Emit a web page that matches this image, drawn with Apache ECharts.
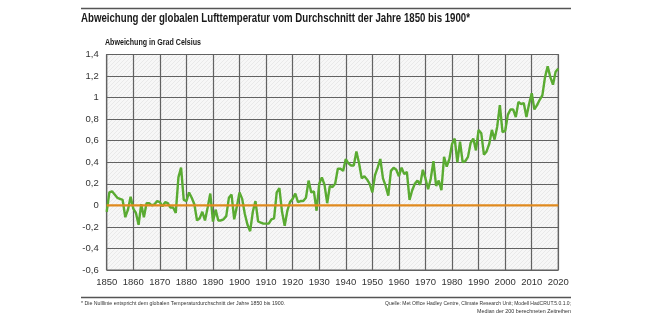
<!DOCTYPE html>
<html>
<head>
<meta charset="utf-8">
<script src="https://cdn.jsdelivr.net/npm/echarts@6/dist/echarts.min.js"></script>
<style>html,body{margin:0;padding:0;background:#fff}#c{width:650px;height:326px}</style>
</head>
<body>
<div id="c"></div>
<script>
const startYear = 1850;
const anomaly = [
  -0.06, 0.12, 0.13, 0.10, 0.07, 0.06, 0.05, -0.11, -0.04, 0.08,
  -0.03, -0.07, -0.18, 0.01, -0.11, 0.02, 0.02, 0.00, 0.01, 0.04,
  0.03, -0.01, 0.03, 0.02, -0.02, -0.02, -0.07, 0.26, 0.35, 0.05,
  0.04, 0.12, 0.07, 0.01, -0.14, -0.12, -0.06, -0.14, -0.02, 0.11,
  -0.15, -0.04, -0.14, -0.14, -0.13, -0.10, 0.07, 0.10, -0.13, -0.01,
  0.12, 0.06, -0.08, -0.18, -0.24, -0.06, 0.04, -0.15, -0.16, -0.17,
  -0.17, -0.17, -0.13, -0.12, 0.12, 0.16, -0.06, -0.19, -0.05, 0.03,
  0.06, 0.11, 0.03, 0.04, 0.04, 0.07, 0.23, 0.12, 0.13, -0.05,
  0.20, 0.26, 0.19, 0.02, 0.18, 0.17, 0.20, 0.34, 0.34, 0.32,
  0.43, 0.39, 0.37, 0.37, 0.50, 0.39, 0.25, 0.27, 0.24, 0.20,
  0.12, 0.28, 0.35, 0.43, 0.25, 0.18, 0.09, 0.32, 0.35, 0.33,
  0.27, 0.35, 0.29, 0.31, 0.05, 0.14, 0.20, 0.23, 0.19, 0.33,
  0.25, 0.15, 0.25, 0.41, 0.18, 0.23, 0.14, 0.45, 0.36, 0.43,
  0.57, 0.62, 0.40, 0.59, 0.40, 0.41, 0.45, 0.58, 0.62, 0.51,
  0.70, 0.67, 0.47, 0.50, 0.57, 0.70, 0.61, 0.73, 0.93, 0.68,
  0.69, 0.84, 0.89, 0.89, 0.82, 0.96, 0.94, 0.95, 0.82, 0.94,
  1.04, 0.89, 0.93, 0.98, 1.02, 1.19, 1.29, 1.19, 1.12, 1.24,
  1.27
];
const years = anomaly.map((v, i) => startYear + i);
const xTicks = [1850, 1860, 1870, 1880, 1890, 1900, 1910, 1920, 1930, 1940, 1950, 1960, 1970, 1980, 1990, 2000, 2010, 2020];
const yTicks = [-0.6, -0.4, -0.2, 0, 0.2, 0.4, 0.6, 0.8, 1, 1.2, 1.4];
const titleText = 'Abweichung der globalen Lufttemperatur vom Durchschnitt der Jahre 1850 bis 1900*';
const yAxisName = 'Abweichung in Grad Celsius';
const footLeft = '* Die Nulllinie entspricht dem globalen Temperaturdurchschnitt der Jahre 1850 bis 1900.';
const footRight1 = 'Quelle: Met Office Hadley Centre, Climate Research Unit; Modell HadCRUT.5.0.1.0;';
const footRight2 = 'Median der 200 berechneten Zeitreihen';

const FONT = "'Liberation Sans', Arial, sans-serif";

const mctx = document.createElement('canvas').getContext('2d');
function fitScale(text, font, target) {
  mctx.font = font;
  const w = mctx.measureText(text).width;
  return target / w;
}

// hatch pattern for plot background
const pc = document.createElement('canvas');
pc.width = 4; pc.height = 4;
const pctx = pc.getContext('2d');
pctx.fillStyle = '#f7f7f7';
pctx.fillRect(0, 0, 4, 4);
pctx.strokeStyle = '#e9e9e9';
pctx.lineWidth = 1;
pctx.beginPath();
pctx.moveTo(0, 4); pctx.lineTo(4, 0);
pctx.stroke();

const fmt = v => String(Math.round(v * 10) / 10).replace('.', ',');

const titleFont = "bold 12.5px " + FONT;
const nameFont = "bold 9.5px " + FONT;
const footFont = "6px " + FONT;

function fittedText(text, font, x, y, target, align, color) {
  const s = fitScale(text, font, target);
  return {
    type: 'text', x: x, y: y, scaleX: s, scaleY: 1,
    style: {text: text, font: font, fill: color, textAlign: align || 'left', textVerticalAlign: 'middle'}
  };
}

const chart = echarts.init(document.getElementById('c'), null, {renderer: 'canvas'});
chart.setOption({
  animation: false,
  backgroundColor: '#fff',
  textStyle: {fontFamily: FONT},
  grid: {
    left: 106.7, right: 91.7, top: 54.5, bottom: 56,
    show: true,
    backgroundColor: {image: pc, repeat: 'repeat'},
    borderColor: '#626262', borderWidth: 1.2
  },
  xAxis: {
    type: 'value', min: 1850, max: 2020, interval: 10,
    axisLine: {show: false},
    axisTick: {show: false},
    splitLine: {show: true, lineStyle: {color: '#626262', width: 1.2}},
    axisLabel: {
      margin: 7, fontSize: 9.5, color: '#333', fontFamily: FONT,
      formatter: v => xTicks.includes(v) ? String(v) : ''
    }
  },
  yAxis: {
    type: 'value', min: -0.6, max: 1.4, interval: 0.2,
    axisLine: {show: false},
    axisTick: {show: false},
    splitLine: {show: true, lineStyle: {color: '#626262', width: 1.2}},
    axisLabel: {
      margin: 8, fontSize: 9.5, color: '#333', fontFamily: FONT,
      formatter: v => fmt(v)
    }
  },
  series: [
    {
      type: 'line',
      data: years.map((y, i) => [y, anomaly[i]]),
      showSymbol: false,
      lineStyle: {color: '#5aab32', width: 2.4},
      z: 3
    },
    {
      type: 'line',
      data: [[xTicks[0], 0], [xTicks[xTicks.length - 1], 0]],
      showSymbol: false,
      lineStyle: {color: '#e08a1e', width: 2.2},
      z: 4
    }
  ],
  graphic: [
    {type: 'line', shape: {x1: 81, y1: 8.5, x2: 571, y2: 8.5}, style: {stroke: '#555', lineWidth: 1.6}},
    {type: 'line', shape: {x1: 81, y1: 297.5, x2: 571, y2: 297.5}, style: {stroke: '#555', lineWidth: 1.6}},
    fittedText(titleText, titleFont, 81, 19, 389, 'left', '#1a1a1a'),
    fittedText(yAxisName, nameFont, 105, 42, 96, 'left', '#1a1a1a'),
    fittedText(footLeft, footFont, 81, 303, 204, 'left', '#333'),
    fittedText(footRight1, footFont, 571, 303, 186, 'right', '#333'),
    fittedText(footRight2, footFont, 571, 311, 94, 'right', '#333')
  ]
});
</script>
</body>
</html>
